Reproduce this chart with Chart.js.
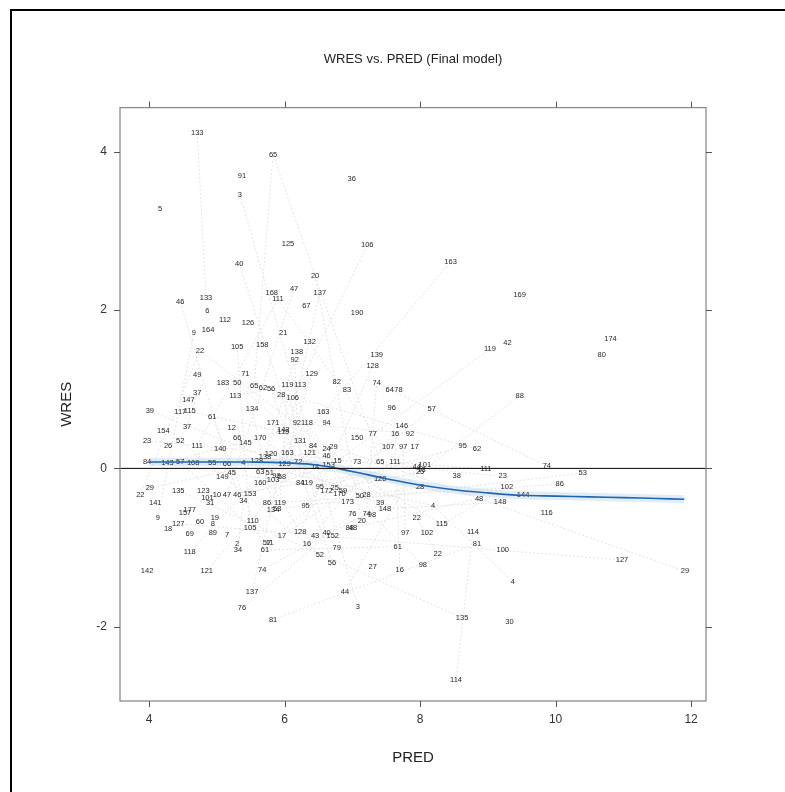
<!DOCTYPE html>
<html>
<head>
<meta charset="utf-8">
<title>WRES vs. PRED (Final model)</title>
<script src="https://cdn.jsdelivr.net/npm/chart.js@4.4.0/dist/chart.umd.min.js"></script>
<style>
    html, body { margin: 0; padding: 0; background: #fff; overflow: hidden; }
    .frame { position: absolute; left: 10px; top: 9px; width: 900px; height: 900px; border: 2px solid #000; box-sizing: border-box; }
    .wrap { position: absolute; left: 0; top: 0; width: 785px; height: 792px; }
</style>
</head>
<body>
<div class="frame"></div>
<div class="wrap"><canvas id="wresChart" width="785" height="792"></canvas></div>
<script>
// Subject ID labels, population predictions and weighted residuals
const ids = [
    133, 65, 91, 3, 36, 5, 125, 106, 40, 20,
    168, 47, 137, 111, 67, 46, 133, 6, 190, 112,
    126, 9, 164, 21, 132, 163, 169, 174, 80, 119,
    42, 88, 57, 105, 158, 138, 92, 139, 22, 128,
    49, 71, 129, 183, 50, 65, 62, 56, 119, 113,
    82, 83, 74, 64, 78, 37, 147, 113, 28, 106,
    39, 117, 115, 61, 134, 163, 96, 154, 23, 37,
    26, 52, 111, 12, 171, 115, 92, 118, 94, 150,
    77, 140, 170, 145, 24, 29, 138, 84, 143, 57,
    108, 55, 66, 4, 128, 149, 45, 63, 51, 103,
    58, 160, 119, 95, 172, 170, 50, 28, 135, 22,
    29, 141, 123, 10, 47, 46, 153, 31, 177, 9,
    157, 19, 119, 134, 95, 173, 39, 148, 76, 74,
    20, 110, 69, 89, 7, 17, 11, 128, 16, 43,
    152, 52, 56, 79, 61, 34, 118, 142, 121, 74,
    137, 76, 81, 44, 3, 27, 16, 98, 61, 97,
    102, 81, 100, 22, 4, 127, 29, 135, 30, 114,
    114, 115, 4, 95, 62, 74, 53, 38, 111, 23,
    102, 86, 48, 148, 144, 116, 146, 16, 92, 107,
    97, 17, 65, 111, 44, 13, 101, 25, 73, 120,
    28, 98, 22, 48, 66, 143, 131, 84, 120, 163,
    121, 46, 90, 84, 25, 59, 101, 34, 86, 53,
    8, 105, 40, 88, 2, 57, 129, 72, 14, 153,
    15, 127, 18, 60
];
const pred = [
    4.71, 5.83, 5.37, 5.34, 6.99, 4.16, 6.05, 7.22, 5.33, 6.45,
    5.81, 6.14, 6.52, 5.90, 6.32, 4.46, 4.84, 4.86, 7.07, 5.12,
    5.46, 4.66, 4.87, 5.98, 6.37, 8.45, 9.47, 10.81, 10.68, 9.03,
    9.29, 9.47, 8.17, 5.30, 5.67, 6.18, 6.15, 7.36, 4.75, 7.30,
    4.71, 5.42, 6.40, 5.09, 5.30, 5.55, 5.68, 5.80, 6.04, 6.23,
    6.77, 6.92, 7.36, 7.55, 7.68, 4.71, 4.58, 5.27, 5.95, 6.12,
    4.01, 4.46, 4.60, 4.93, 5.52, 6.57, 7.58, 4.21, 3.97, 4.56,
    4.28, 4.46, 4.71, 5.22, 5.83, 5.98, 6.18, 6.33, 6.62, 7.07,
    7.30, 5.05, 5.64, 5.42, 6.62, 6.72, 5.71, 3.97, 4.27, 4.46,
    4.65, 4.93, 5.15, 5.39, 5.59, 5.08, 5.22, 5.64, 5.78, 5.83,
    5.96, 5.64, 6.33, 6.52, 6.62, 6.81, 7.11, 7.21, 4.43, 3.87,
    4.01, 4.09, 4.80, 5.00, 5.15, 5.30, 5.49, 4.90, 4.60, 4.13,
    4.53, 4.97, 5.93, 5.83, 6.31, 6.93, 7.41, 7.48, 7.00, 7.21,
    7.14, 5.53, 4.60, 4.94, 5.15, 5.96, 5.78, 6.23, 6.33, 6.45,
    6.71, 6.52, 6.70, 6.77, 5.71, 5.31, 4.60, 3.97, 4.85, 5.67,
    5.52, 5.37, 5.83, 6.89, 7.08, 7.30, 7.70, 8.04, 7.67, 7.78,
    8.10, 8.84, 9.22, 8.26, 9.37, 10.98, 11.91, 8.62, 9.32, 8.53,
    8.78, 8.32, 8.19, 8.63, 8.84, 9.87, 10.40, 8.54, 8.97, 9.22,
    9.28, 10.06, 8.87, 9.18, 9.52, 9.87, 7.73, 7.63, 7.85, 7.53,
    7.75, 7.92, 7.41, 7.63, 7.95, 8.02, 8.07, 8.00, 7.07, 7.41,
    8.00, 7.29, 7.95, 7.01, 5.30, 5.98, 6.23, 6.42, 5.80, 6.04,
    6.37, 6.62, 5.88, 6.23, 6.74, 6.86, 4.86, 5.39, 5.74, 5.89,
    4.94, 5.49, 6.62, 6.96, 5.30, 5.74, 6.00, 6.20, 6.45, 6.65,
    6.78, 4.43, 4.28, 4.75
];
const wres = [
    4.24, 3.96, 3.70, 3.46, 3.66, 3.28, 2.84, 2.82, 2.59, 2.43,
    2.22, 2.27, 2.22, 2.14, 2.05, 2.10, 2.16, 1.99, 1.96, 1.88,
    1.84, 1.71, 1.75, 1.71, 1.60, 2.61, 2.19, 1.63, 1.44, 1.51,
    1.58, 0.92, 0.75, 1.54, 1.56, 1.47, 1.37, 1.44, 1.49, 1.29,
    1.18, 1.20, 1.20, 1.08, 1.08, 1.04, 1.02, 1.00, 1.06, 1.06,
    1.09, 0.99, 1.08, 0.99, 0.99, 0.95, 0.86, 0.92, 0.93, 0.89,
    0.73, 0.71, 0.72, 0.65, 0.75, 0.71, 0.76, 0.47, 0.35, 0.52,
    0.29, 0.35, 0.29, 0.51, 0.58, 0.46, 0.57, 0.57, 0.57, 0.39,
    0.44, 0.25, 0.39, 0.32, 0.25, 0.27, 0.14, 0.08, 0.07, 0.08,
    0.07, 0.07, 0.05, 0.07, 0.10, -0.11, -0.06, -0.05, -0.06, -0.15,
    -0.11, -0.19, -0.19, -0.24, -0.28, -0.32, -0.35, -0.34, -0.28, -0.34,
    -0.25, -0.44, -0.28, -0.34, -0.34, -0.33, -0.32, -0.44, -0.52, -0.62,
    -0.56, -0.62, -0.44, -0.53, -0.47, -0.43, -0.44, -0.51, -0.57, -0.57,
    -0.66, -0.66, -0.83, -0.82, -0.84, -0.85, -0.94, -0.80, -0.95, -0.86,
    -0.85, -1.09, -1.19, -1.00, -1.03, -1.03, -1.06, -1.30, -1.29, -1.28,
    -1.56, -1.77, -1.91, -1.56, -1.75, -1.25, -1.28, -1.22, -0.99, -0.82,
    -0.82, -0.95, -1.03, -1.08, -1.43, -1.16, -1.30, -1.89, -1.94, -2.68,
    -0.80, -0.70, -0.47, 0.28, 0.24, 0.03, -0.06, -0.10, -0.01, -0.10,
    -0.23, -0.20, -0.38, -0.43, -0.33, -0.56, 0.54, 0.44, 0.44, 0.27,
    0.27, 0.27, 0.08, 0.08, 0.02, -0.02, 0.04, -0.05, 0.08, -0.13,
    -0.24, -0.59, -0.62, -0.75, 0.38, 0.48, 0.35, 0.29, 0.18, 0.19,
    0.19, 0.16, -0.10, -0.19, -0.25, -0.28, -0.37, -0.41, -0.44, -0.51,
    -0.70, -0.75, -0.82, -0.75, -0.95, -0.94, 0.05, 0.08, 0.02, 0.04,
    0.10, -0.70, -0.76, -0.68
];

// Loess smooth (blue line)
const smoothX = [4.0, 4.5, 5.0, 5.5, 6.0, 6.5, 7.0, 7.5, 8.0, 8.5, 9.0, 9.5, 10.0, 10.5, 11.0, 11.5, 11.9];
const smoothY = [0.08, 0.08, 0.08, 0.08, 0.07, 0.04, -0.04, -0.13, -0.21, -0.27, -0.31, -0.34, -0.35, -0.36, -0.37, -0.38, -0.39];

// Axis ranges and ticks
const xRange = [3.57, 12.22];
const yRange = [-2.94, 4.56];
const xTicks = [4, 6, 8, 10, 12];
const yTicks = [-2, 0, 2, 4];

const fontFamily = '"Liberation Sans", Arial, Helvetica, sans-serif';

// Grey lines joining observations of the same ID
const groups = {};
ids.forEach((id, i) => {
    if (!groups[id]) groups[id] = [];
    groups[id].push({ x: pred[i], y: wres[i] });
});
const idLines = Object.keys(groups)
    .filter(k => groups[k].length > 1)
    .map(k => ({
        label: 'id-' + k,
        type: 'line',
        data: groups[k].sort((a, b) => a.x - b.x),
        borderColor: '#e3e3e3',
        borderWidth: 1,
        borderDash: [2, 2],
        pointRadius: 0,
        fill: false,
        order: 10
    }));

// Draws each ID number at its point position
const idLabels = {
    id: 'idLabels',
    afterDatasetDraw(chart, args) {
        if (chart.data.datasets[args.index].label !== 'ids') return;
        const ctx = chart.ctx;
        ctx.save();
        ctx.font = '7.5px ' + fontFamily;
        ctx.fillStyle = '#262626';
        ctx.textAlign = 'center';
        ctx.textBaseline = 'middle';
        args.meta.data.forEach((pt, i) => {
            ctx.fillText(String(ids[i]), pt.x, pt.y);
        });
        ctx.restore();
    }
};

// Lattice style box with tick marks on all four sides
const latticeBox = {
    id: 'latticeBox',
    afterDraw(chart) {
        const { ctx, chartArea: a, scales: { x, y } } = chart;
        ctx.save();
        ctx.strokeStyle = '#8c8c8c';
        ctx.lineWidth = 1.3;
        ctx.strokeRect(a.left, a.top, a.width, a.height);
        ctx.strokeStyle = '#555';
        ctx.lineWidth = 1;
        ctx.beginPath();
        xTicks.forEach(v => {
            const px = Math.round(x.getPixelForValue(v)) + 0.5;
            ctx.moveTo(px, a.bottom); ctx.lineTo(px, a.bottom + 6);
            ctx.moveTo(px, a.top); ctx.lineTo(px, a.top - 6);
        });
        yTicks.forEach(v => {
            const py = Math.round(y.getPixelForValue(v)) + 0.5;
            ctx.moveTo(a.left, py); ctx.lineTo(a.left - 6, py);
            ctx.moveTo(a.right, py); ctx.lineTo(a.right + 6, py);
        });
        ctx.stroke();
        ctx.restore();
    }
};

const ctx = document.getElementById('wresChart');
new Chart(ctx, {
    type: 'scatter',
    data: {
        datasets: [
            {
                label: 'zero',
                type: 'line',
                data: xRange.map(v => ({ x: v, y: 0 })),
                borderColor: '#000',
                borderWidth: 1,
                pointRadius: 0,
                order: 0
            },
            {
                label: 'smooth',
                type: 'line',
                data: smoothX.map((v, i) => ({ x: v, y: smoothY[i] })),
                borderColor: '#2166ac',
                borderWidth: 1.6,
                pointRadius: 0,
                tension: 0.4,
                order: 1
            },
            {
                label: 'smooth-band',
                type: 'line',
                data: smoothX.map((v, i) => ({ x: v, y: smoothY[i] })),
                borderColor: 'rgba(186, 216, 238, 0.45)',
                borderWidth: 8,
                pointRadius: 0,
                tension: 0.4,
                order: 3
            },
            {
                label: 'ids',
                data: pred.map((v, i) => ({ x: v, y: wres[i] })),
                pointRadius: 0,
                order: 2
            },
            ...idLines
        ]
    },
    options: {
        responsive: false,
        animation: false,
        layout: { padding: { left: 50, right: 79, top: 0, bottom: 20 } },
        plugins: {
            legend: { display: false },
            tooltip: { enabled: false },
            title: {
                display: true,
                fullSize: false,
                text: 'WRES vs. PRED (Final model)',
                color: '#222',
                font: { family: fontFamily, size: 13, weight: 'normal' },
                padding: { top: 52, bottom: 40 }
            }
        },
        scales: {
            x: {
                type: 'linear',
                min: xRange[0],
                max: xRange[1],
                afterBuildTicks: s => { s.ticks = xTicks.map(v => ({ value: v })); },
                afterFit: s => { s.height = 71; },
                grid: { display: false, drawTicks: false },
                border: { display: false },
                ticks: { color: '#333', padding: 11, font: { family: fontFamily, size: 12 } },
                title: {
                    display: true,
                    text: 'PRED',
                    color: '#222',
                    font: { family: fontFamily, size: 15 },
                    padding: { top: 0, bottom: 5 }
                }
            },
            y: {
                type: 'linear',
                min: yRange[0],
                max: yRange[1],
                afterBuildTicks: s => { s.ticks = yTicks.map(v => ({ value: v })); },
                afterFit: s => { s.width = 70; },
                grid: { display: false, drawTicks: false },
                border: { display: false },
                ticks: { color: '#333', padding: 13, font: { family: fontFamily, size: 12 } },
                title: {
                    display: true,
                    text: 'WRES',
                    color: '#222',
                    font: { family: fontFamily, size: 15 },
                    padding: { top: 8, bottom: 0 }
                }
            }
        }
    },
    plugins: [idLabels, latticeBox]
});
</script>
</body>
</html>
